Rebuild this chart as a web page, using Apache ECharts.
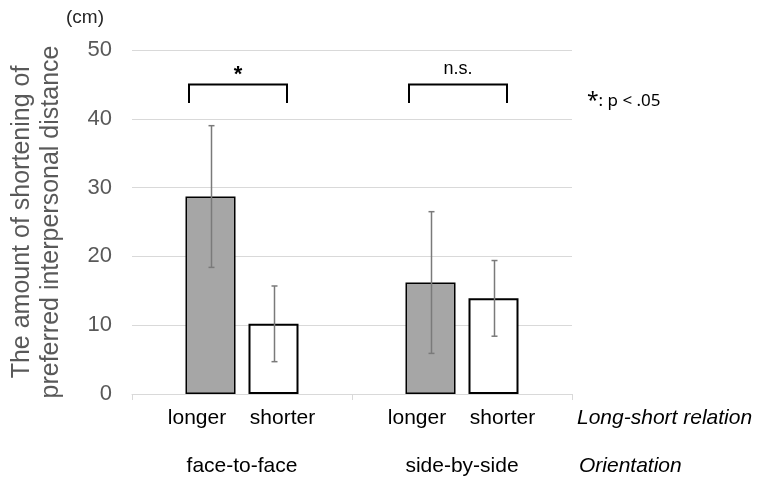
<!DOCTYPE html>
<html>
<head>
<meta charset="utf-8">
<script src="https://cdn.jsdelivr.net/npm/echarts@6/dist/echarts.min.js"></script>
<style>
  html, body { margin: 0; padding: 0; background: #ffffff; }
  #chart { width: 760px; height: 483px; }
</style>
</head>
<body>
<div id="chart"></div>
<script>
// Orientation groups and long-short relation conditions
const orientations = ['face-to-face', 'side-by-side'];
const relations = ['longer', 'shorter'];

// Mean shortening of preferred interpersonal distance (cm)
const longerMean = [28.7, 16.2];
const shorterMean = [10.2, 13.9];

// Standard deviations shown as error bars (cm)
const longerSD = [10.3, 10.3];
const shorterSD = [5.5, 5.5];

// Value axis ticks
const yTicks = [0, 10, 20, 30, 40, 50];

// Significance marks per orientation
const sigMarks = ['*', 'n.s.'];

const FONT = '"Liberation Sans", Arial, sans-serif';
const BAR_W = 50;
const BAR_GAP = 13;
const HALF = (BAR_W + BAR_GAP) / 2;

function errorSeries(name, means, sds, offset) {
  return {
    type: 'custom',
    name: name,
    z: 5,
    encode: { x: 0, y: [1, 2] },
    data: means.map((m, i) => [i, m - sds[i], m + sds[i]]),
    renderItem: function (params, api) {
      const lo = api.coord([api.value(0), api.value(1)]);
      const hi = api.coord([api.value(0), api.value(2)]);
      const x = Math.round(lo[0] + offset) + 0.5;
      const cap = 3;
      const style = { stroke: '#7a7a7a', lineWidth: 1.5 };
      return {
        type: 'group',
        children: [
          { type: 'line', shape: { x1: x, y1: hi[1], x2: x, y2: lo[1] }, style: style },
          { type: 'line', shape: { x1: x - cap, y1: hi[1], x2: x + cap, y2: hi[1] }, style: style },
          { type: 'line', shape: { x1: x - cap, y1: lo[1], x2: x + cap, y2: lo[1] }, style: style }
        ]
      };
    }
  };
}

const chart = echarts.init(document.getElementById('chart'), null, { renderer: 'canvas' });

chart.setOption({
  animation: false,
  backgroundColor: '#ffffff',
  grid: { left: 127, right: 188, top: 50, bottom: 89, containLabel: false },
  xAxis: {
    type: 'category',
    data: orientations,
    axisLine: { show: true, lineStyle: { color: '#d9d9d9', width: 1 } },
    axisTick: { show: true, length: 6, lineStyle: { color: '#d9d9d9' } },
    axisLabel: { margin: 62, fontFamily: FONT, fontSize: 21, color: '#000000' }
  },
  yAxis: {
    type: 'value',
    min: yTicks[0],
    max: yTicks[yTicks.length - 1],
    interval: yTicks[1] - yTicks[0],
    name: 'The amount of shortening of\npreferred interpersonal distance',
    nameLocation: 'middle',
    nameRotate: 90,
    nameGap: 66,
    nameTextStyle: { fontFamily: FONT, fontSize: 25, color: '#595959', lineHeight: 29 },
    axisLine: { show: false },
    axisTick: { show: false },
    axisLabel: { margin: 20, fontFamily: FONT, fontSize: 22, color: '#595959' },
    splitLine: { lineStyle: { color: '#d9d9d9', width: 1 } }
  },
  series: [
    {
      type: 'bar',
      name: relations[0],
      data: longerMean,
      barWidth: BAR_W,
      barGap: (BAR_GAP / BAR_W * 100) + '%',
      itemStyle: { color: '#a6a6a6', borderColor: '#000000', borderWidth: 1.5 }
    },
    {
      type: 'bar',
      name: relations[1],
      data: shorterMean,
      barWidth: BAR_W,
      itemStyle: { color: '#ffffff', borderColor: '#000000', borderWidth: 2 }
    },
    errorSeries('longer-sd', longerMean, longerSD, -HALF),
    errorSeries('shorter-sd', shorterMean, shorterSD, HALF)
  ]
});

// Annotations: unit, brackets with significance marks, relation labels, row titles
function annotations() {
  const els = [];
  const yBase = chart.convertToPixel({ yAxisIndex: 0 }, 0);
  const yBracketTop = chart.convertToPixel({ yAxisIndex: 0 }, 45);
  const yBracketLeg = chart.convertToPixel({ yAxisIndex: 0 }, 42.3);

  els.push({
    type: 'text', x: 66, y: 18,
    style: { text: '(cm)', font: '19px ' + FONT, fill: '#262626', verticalAlign: 'middle' }
  });

  orientations.forEach(function (o, i) {
    const cx = chart.convertToPixel({ xAxisIndex: 0 }, o);
    const xl = cx - 53, xr = cx + 45;
    els.push({
      type: 'polyline',
      shape: { points: [[xl, yBracketLeg], [xl, yBracketTop], [xr, yBracketTop], [xr, yBracketLeg]] },
      style: { stroke: '#000000', lineWidth: 2, fill: null }
    });
    const mark = sigMarks[i];
    els.push({
      type: 'text',
      x: (xl + xr) / 2, y: mark === '*' ? yBracketTop + 2 : yBracketTop - 6,
      style: {
        text: mark,
        font: (mark === '*' ? 'bold 22px ' : '18px ') + FONT,
        fill: '#000000', align: 'center', verticalAlign: 'bottom'
      }
    });
    // longer / shorter labels under each group
    els.push({
      type: 'text', x: cx - 45, y: yBase + 24,
      style: { text: relations[0], font: '21px ' + FONT, fill: '#000000', align: 'center', verticalAlign: 'middle' }
    });
    els.push({
      type: 'text', x: cx + 40.5, y: yBase + 24,
      style: { text: relations[1], font: '21px ' + FONT, fill: '#000000', align: 'center', verticalAlign: 'middle' }
    });
  });

  els.push({
    type: 'text', x: 577, y: yBase + 24,
    style: { text: 'Long-short relation', font: 'italic 21px ' + FONT, fill: '#000000', align: 'left', verticalAlign: 'middle' }
  });
  els.push({
    type: 'text', x: 579, y: yBase + 72,
    style: { text: 'Orientation', font: 'italic 21px ' + FONT, fill: '#000000', align: 'left', verticalAlign: 'middle' }
  });
  els.push({
    type: 'text', x: 587, y: 101,
    style: {
      text: '{a|*}{b|: p < .05}',
      verticalAlign: 'middle',
      rich: {
        a: { fontFamily: '"Noto Sans", sans-serif', fontSize: 21, color: '#000000', verticalAlign: 'top' },
        b: { fontFamily: '"Noto Sans", sans-serif', fontSize: 17, color: '#000000' }
      }
    }
  });
  return els;
}

chart.setOption({ graphic: { elements: annotations() } });
</script>
</body>
</html>
